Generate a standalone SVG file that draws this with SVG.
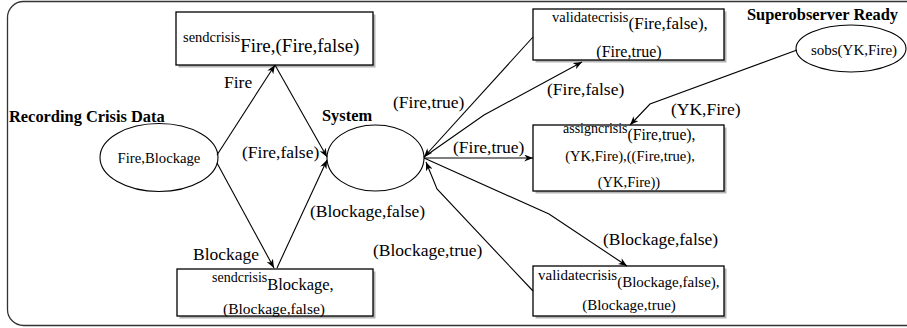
<svg xmlns="http://www.w3.org/2000/svg" width="907" height="328" viewBox="0 0 907 328">
<style>
text{font-family:"Liberation Serif","Times New Roman",serif;fill:#000}
.t{font-weight:bold;font-size:16.4px}
.lbl{font-size:17.5px}
.box{fill:#fff;stroke:#000;stroke-width:1.3}
.sh{fill:#777;opacity:0.55}
.ell{fill:#fff;stroke:#000;stroke-width:1.1}
.c{fill:none;stroke:#000;stroke-width:1.1}
.frame{fill:none;stroke:#333;stroke-width:1.3}
</style>
<defs>
<marker id="ah" viewBox="0 0 10 8" refX="10" refY="4" markerWidth="9" markerHeight="7" markerUnits="userSpaceOnUse" orient="auto">
<path d="M0,0 L10,4 L0,8 L3,4 z" fill="#000"/>
</marker>
</defs>
<rect class="frame" x="7.5" y="1.5" width="920" height="324" rx="16"/>

<g id="recording">
<text class="t" x="9" y="122">Recording Crisis Data</text>
<ellipse class="ell" cx="159" cy="157.5" rx="59" ry="34"/>
<text x="159" y="163" font-size="14.7" text-anchor="middle">Fire,Blockage</text>
</g>

<g id="system">
<text class="t" x="322" y="121">System</text>
<ellipse class="ell" cx="375.5" cy="158" rx="48.5" ry="33"/>
</g>

<g id="superobserver">
<text class="t" x="747" y="20">Superobserver Ready</text>
<ellipse class="ell" cx="851" cy="48.5" rx="55" ry="23.5"/>
<text x="854" y="55" font-size="15" text-anchor="middle">sobs(YK,Fire)</text>
</g>

<g id="sendFire">
<rect class="sh" x="178.5" y="14.5" width="197" height="53"/>
<rect class="box" x="176" y="12" width="197" height="53"/>
<text x="183" y="42" font-size="14.5">sendcrisis<tspan font-size="19" dy="10">Fire,(Fire,false)</tspan></text>
</g>

<g id="sendBlockage">
<rect class="sh" x="179.5" y="271.5" width="196" height="47"/>
<rect class="box" x="177" y="269" width="196" height="47"/>
<text x="212" y="282" font-size="14">sendcrisis<tspan font-size="16.5" dy="8">Blockage,</tspan></text>
<text x="274" y="314" font-size="15.5" text-anchor="middle">(Blockage,false)</text>
</g>

<g id="validateFire">
<rect class="sh" x="535.5" y="11.5" width="191" height="51"/>
<rect class="box" x="533" y="9" width="191" height="51"/>
<text x="552" y="22" font-size="14.5">validatecrisis<tspan font-size="17" dy="7">(Fire,false),</tspan></text>
<text x="629" y="57" font-size="16" text-anchor="middle">(Fire,true)</text>
</g>

<g id="assign">
<rect class="sh" x="535.5" y="127.5" width="191" height="66"/>
<rect class="box" x="533" y="125" width="191" height="66"/>
<text x="563" y="133" font-size="14">assigncrisis<tspan font-size="15.7" dy="7">(Fire,true),</tspan></text>
<text x="630" y="161" font-size="14.6" text-anchor="middle">(YK,Fire),((Fire,true),</text>
<text x="629" y="187" font-size="14.5" text-anchor="middle">(YK,Fire))</text>
</g>

<g id="validateBlockage">
<rect class="sh" x="535.5" y="268.5" width="191" height="50"/>
<rect class="box" x="533" y="266" width="191" height="50"/>
<text x="538" y="280" font-size="15">validatecrisis<tspan dy="7">(Blockage,false),</tspan></text>
<text x="629" y="310" font-size="15" text-anchor="middle">(Blockage,true)</text>
</g>

<g id="connectors">
<path class="c" marker-end="url(#ah)" d="M217,155 L275,65"/>
<path class="c" marker-end="url(#ah)" d="M275,65 L327,157"/>
<path class="c" marker-end="url(#ah)" d="M217,163 L274,268"/>
<path class="c" marker-end="url(#ah)" d="M277,268 L327,160"/>
<path class="c" marker-end="url(#ah)" d="M533,37 L424,157"/>
<path class="c" marker-end="url(#ah)" d="M424,157 L484,115 L582,62"/>
<path class="c" marker-end="url(#ah)" d="M424,158 L533,158"/>
<path class="c" marker-end="url(#ah)" d="M797,50 L650,104 L630,125"/>
<path class="c" marker-end="url(#ah)" d="M533,291 L437,189 L426,162"/>
<path class="c" marker-end="url(#ah)" d="M424,158 L549,214 L627,266"/>
<text class="lbl" x="224" y="88" font-size="18">Fire</text>
<text class="lbl" x="242" y="158" font-size="17">(Fire,false)</text>
<text class="lbl" x="310" y="217">(Blockage,false)</text>
<text class="lbl" x="193" y="260" font-size="18">Blockage</text>
<text class="lbl" x="373" y="256">(Blockage,true)</text>
<text class="lbl" x="393" y="108" font-size="17">(Fire,true)</text>
<text class="lbl" x="547" y="95">(Fire,false)</text>
<text class="lbl" x="671" y="115" font-size="17">(YK,Fire)</text>
<text class="lbl" x="453" y="153" font-size="17">(Fire,true)</text>
<text class="lbl" x="603" y="245">(Blockage,false)</text>
</g>
</svg>
